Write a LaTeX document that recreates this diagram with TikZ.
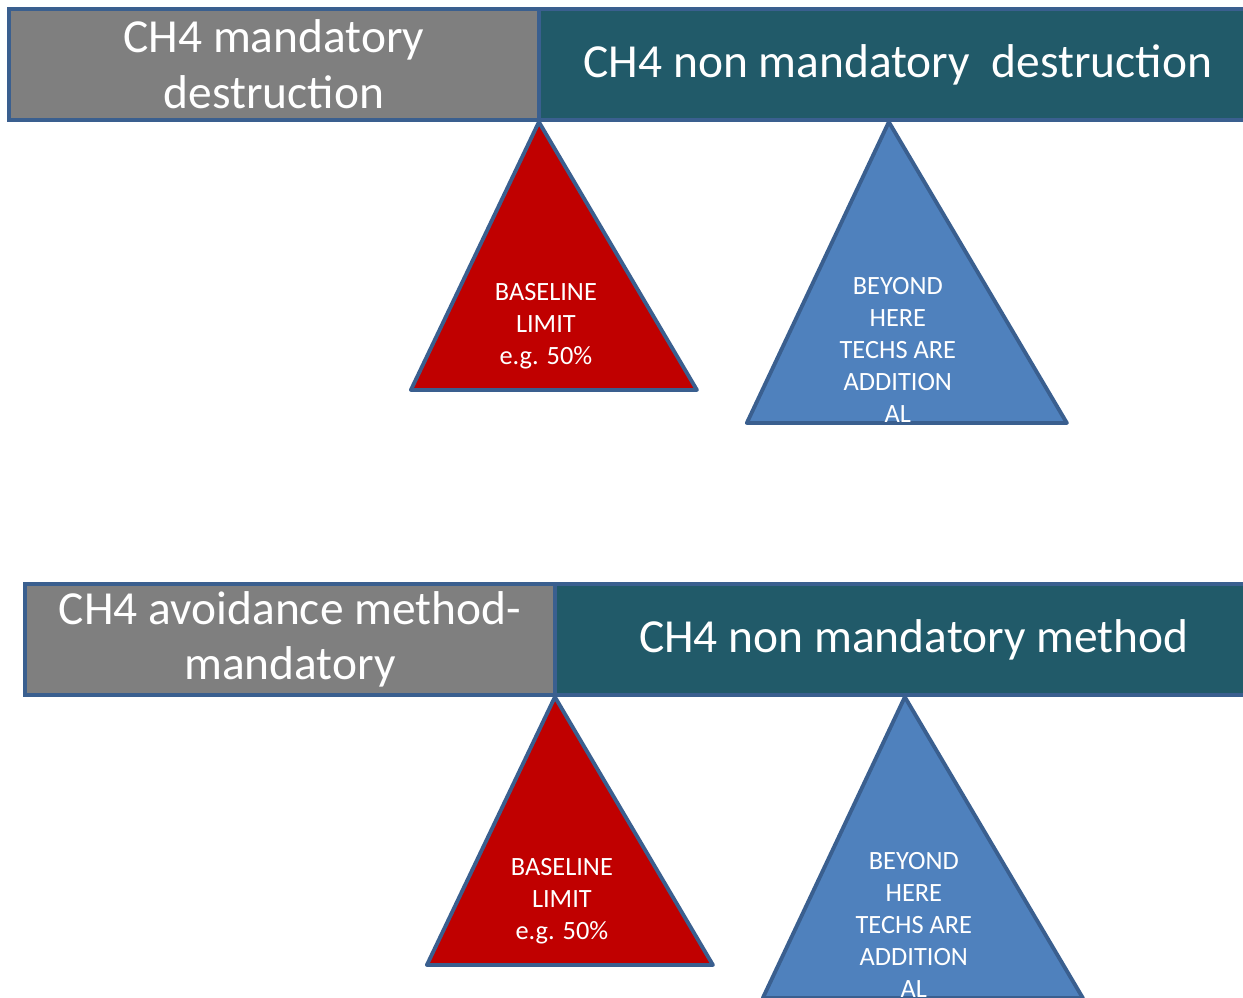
\documentclass[tikz,border=0pt]{standalone}
\usepackage{fontspec}
\setmainfont{Carlito}
\usetikzlibrary{positioning}

\definecolor{edgeblue}{HTML}{3A5F8F}
\definecolor{boxgray}{HTML}{7F7F7F}
\definecolor{boxteal}{HTML}{215A69}
\definecolor{limitred}{HTML}{C00000}
\definecolor{techblue}{HTML}{4F81BD}

\tikzset{
  band/.style={draw=edgeblue, line width=2.4pt, text=white, align=center,
    inner sep=0pt, outer sep=0pt, minimum height=2.22cm,
    font=\fontsize{27}{31.7}\selectfont},
  limit/.style={draw=edgeblue, fill=limitred, line width=2.2pt, line join=round},
  tech/.style={draw=edgeblue, fill=techblue, line width=2.2pt, line join=round},
  tritext/.style={text=white, align=center, inner sep=0pt,
    font=\fontsize{15}{18.1}\selectfont}
}

\begin{document}
\begin{tikzpicture}[x=0.02cm, y=-0.02cm]
    \useasboundingbox (0,0) rectangle (1243,997);
    \clip (0,0) rectangle (1243,997);
    \foreach \i/\dx/\dy/\lefttext/\righttext in {
        1/0/0/{CH4 mandatory\\destruction}/{CH4 non mandatory~ destruction},
        2/16/575/{CH4 avoidance method-\\mandatory}/{CH4 non mandatory method}} {
        % bar with the two parts
        \node[band, fill=boxgray, minimum width=10.6cm, anchor=north west]
            (mand\i) at (9+\dx, 9+\dy) {\lefttext};
        \node[band, fill=boxteal, minimum width=14.36cm, right=0pt of mand\i]
            (nonmand\i) {\righttext};
        % triangles below the bar
        \coordinate (tip\i) at ([yshift=-0.04cm]mand\i.south east);
        \coordinate (techtip\i) at ([xshift=7cm]tip\i);
        \draw[limit] (tip\i) -- ++(-128,268) -- ++(286,0) -- cycle;
        \draw[tech] (techtip\i) -- ++(-142,301) -- ++(320,0) -- cycle;
        \node[tritext] (base\i) at ([shift={(7,204)}]tip\i)
            {BASELINE\\LIMIT\\e.g. 50\%};
        \node[tritext] (beyond\i) at ([shift={(9,228)}]techtip\i)
            {BEYOND\\HERE\\TECHS ARE\\ADDITION\\AL};
    }
\end{tikzpicture}
\end{document}
